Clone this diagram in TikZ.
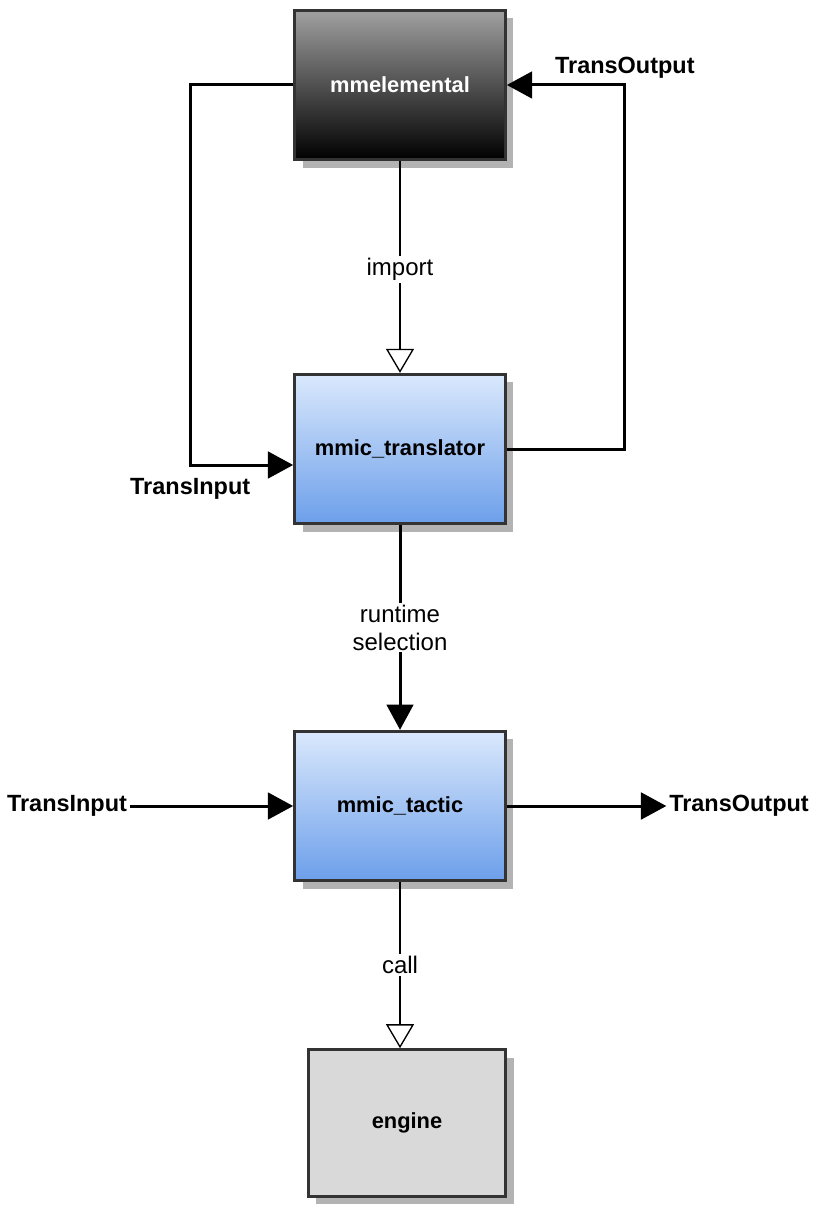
\documentclass[tikz,border=0pt]{standalone}
\usepackage{fontspec}
\setmainfont{Liberation Sans}
\usetikzlibrary{arrows.meta, positioning, shadows}
\definecolor{boxedge}{HTML}{333333}
\definecolor{shadowgray}{HTML}{B3B3B3}
\definecolor{darktop}{HTML}{A0A0A0}
\definecolor{bluetop}{HTML}{DAE8FC}
\definecolor{bluebot}{HTML}{6C9FEA}
\definecolor{enginebg}{HTML}{D9D9D9}

\begin{document}
\begin{tikzpicture}[x=0.75pt, y=-0.75pt,
  unit/.style={rectangle, draw=boxedge, line width=2.25pt,
    minimum width=158pt, minimum height=112pt, inner sep=0pt,
    font=\bfseries\fontsize{16.4}{19}\selectfont,
    drop shadow={shadow xshift=6pt, shadow yshift=-6pt,
      fill=shadowgray, opacity=1}},
  darkunit/.style={unit, top color=darktop, bottom color=black, text=white},
  blueunit/.style={unit, top color=bluetop, bottom color=bluebot},
  flow/.style={line width=2.25pt, -{Triangle[length=19pt, width=20pt]}},
  uses/.style={line width=1pt,
    -{Triangle[open, length=18pt, width=21pt, fill=white]}},
  edgetag/.style={fill=white, inner sep=1.5pt, align=center,
    font=\fontsize{18}{21}\selectfont},
  porttag/.style={inner sep=2pt, font=\bfseries\fontsize{17.6}{20}\selectfont}
]
  \useasboundingbox (0,0) rectangle (817,1216);

  \node[darkunit] (elem)   at (400,85)  {mmelemental};
  \node[blueunit] (trans)  at (400,449) {mmic\_translator};
  \node[blueunit] (tactic) at (400,806) {mmic\_tactic};
  \node[unit, fill=enginebg, minimum width=148pt, minimum height=110pt]
    (engine) at (407,1123) {engine};

  \node[porttag] (tin)  at (67,806)  {TransInput};
  \node[porttag] (tout) at (739,806) {TransOutput};

  \draw[uses] (elem.south) -- node[edgetag, yshift=-2pt] {import} (trans.north);
  \draw[flow] (trans.south) -- node[edgetag] {runtime\\selection} (tactic.north);
  \draw[uses] (tactic.south) -- node[edgetag] {call} (tactic.south |- engine.north);

  \draw[flow] (elem.west) -- ++(-103,0)
    |- node[porttag, below=7pt] {TransInput} ([yshift=-12pt]trans.west);
  \draw[flow] (trans.east) -- ++(118,0)
    |- node[porttag, above=2pt] {TransOutput} (elem.east);

  \draw[flow] (tin.east) -- (tactic.west);
  \draw[flow] (tactic.east) -- (tout.west);
\end{tikzpicture}
\end{document}
